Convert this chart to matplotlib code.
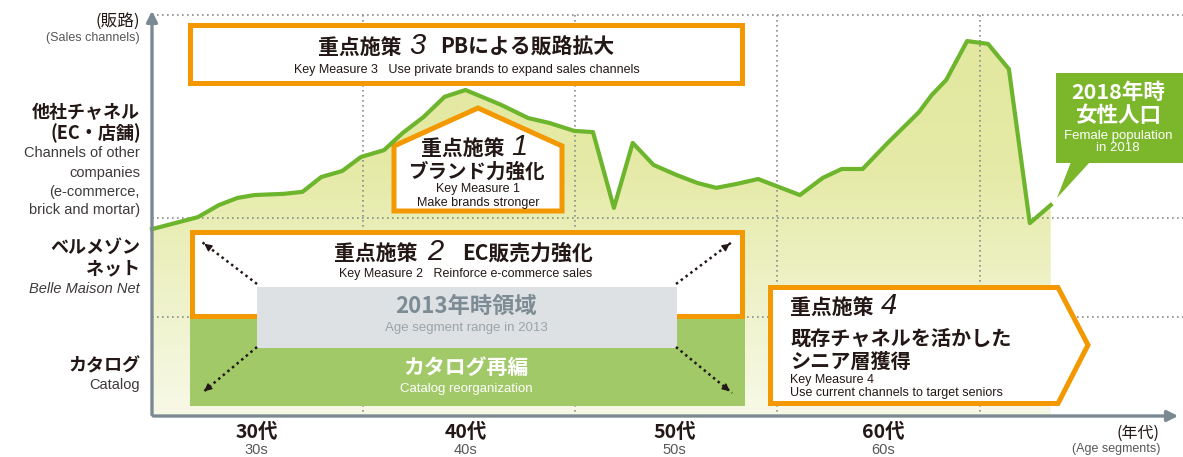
import matplotlib.pyplot as plt
import matplotlib.transforms as mtransforms
from matplotlib.patches import Rectangle, Polygon, FancyArrowPatch
from matplotlib.colors import LinearSegmentedColormap
import numpy as np

# 2018年時 女性人口（年齢別・指数）
ages = [30.0, 32.2, 33.2, 34.1, 34.9, 36.3, 37.2, 38.1, 39.1, 40.0, 41.1, 42.0,
        43.0, 44.0, 45.0, 46.7, 48.0, 49.0, 50.2, 51.1, 52.1, 53.0, 54.0, 55.1,
        56.1, 57.0, 58.0, 59.0, 60.0, 61.0, 62.1, 63.0, 64.0, 65.2, 66.7, 67.3,
        68.0, 69.0, 70.0, 71.0, 72.0, 73.0]
population = [46.6, 49.6, 52.6, 54.4, 55.1, 55.4, 55.9, 59.6, 61.1, 64.6, 66.3, 70.6,
              74.6, 79.6, 81.3, 77.6, 74.3, 73.1, 71.1, 70.8, 51.9, 68.1, 62.6, 60.1,
              58.1, 56.9, 57.9, 59.1, 57.1, 55.1, 59.4, 61.6, 61.6, 68.1, 75.8, 80.0,
              83.8, 93.5, 92.8, 86.5, 48.1, 52.6]

decade_centers = [35, 45, 55, 65]
decade_labels = ['30代', '40代', '50代', '60代']
decade_labels_en = ['30s', '40s', '50s', '60s']

JP = ['Noto Sans CJK JP', 'DejaVu Sans']
EN = 'Liberation Sans'
DARK = '#231815'
ORANGE = '#f39800'
AXIS = '#7b8a92'

W, H = 1183, 457
fig = plt.figure(figsize=(W / 100, H / 100), dpi=100)
ax = fig.add_axes([0, 0, 1, 1])
ax.axis('off')

# 画素座標（左上原点）用の変換
T = mtransforms.Affine2D().scale(1 / W, -1 / H).translate(0, 1) + fig.transFigure
TX = mtransforms.blended_transform_factory(ax.transData, T)

# 塗り（グラデーション）
poly = ax.fill_between(ages, population, 0, color='none', lw=0, zorder=1)
cmap = LinearSegmentedColormap.from_list('fill', ['#f7f9e7', '#eef2c8', '#e5eaa6', '#e2e89f'])
grad = np.linspace(0, 1, 256).reshape(-1, 1)
im = ax.imshow(grad, extent=(ages[0], ages[-1], 0, max(population)), origin='lower',
               aspect='auto', cmap=cmap, zorder=1)
im.set_clip_path(poly.get_paths()[0], transform=ax.transData)

px_per_year = 20.9
ax.set_xlim(30 - 152 / px_per_year, 30 + (W - 152) / px_per_year)
ax.set_ylim(-(H - 416) / 4.01, 416 / 4.01)

# 点線グリッド
dot = dict(color='#8c8c8c', ls=(0, (1, 2)), lw=1.2, zorder=2, transform=T)
for x in [363, 575, 777, 980]:
    ax.plot([x, x], [15, 416], **dot)
for y in [15, 218, 317]:
    ax.plot([152, W], [y, y], **dot)

# 重点施策1（家形）
ax.add_patch(Polygon([(394, 211), (394, 146), (478, 108), (562, 146), (562, 211)],
                     closed=True, fc='white', ec=ORANGE, lw=3.6, transform=T, zorder=3,
                     joinstyle='miter'))

# 女性人口ライン
ax.plot(ages, population, color='#6cb52d', lw=3, zorder=4, solid_joinstyle='round')

# 重点施策3
ax.add_patch(Rectangle((190.5, 24.5), 552, 58, fc='white', ec=ORANGE, lw=3.6,
                       transform=T, zorder=5, joinstyle='miter'))
# カタログ再編 / 重点施策2 / 2013年時領域
ax.add_patch(Rectangle((190, 317), 555, 89, fc='#a2c968', ec='none', transform=T, zorder=5))
ax.add_patch(Rectangle((192.5, 231.5), 550, 84, fc='white', ec=ORANGE, lw=3.6,
                       transform=T, zorder=6, joinstyle='miter'))
ax.add_patch(Rectangle((257, 287), 420, 61, fc='#dde1e4', ec='none', transform=T, zorder=7))

# 重点施策4（矢印形）
ax.add_patch(Polygon([(770.5, 287.5), (1058, 287.5), (1088, 345), (1058, 403.5), (770.5, 403.5)],
                     closed=True, fc='white', ec=ORANGE, lw=3.6, transform=T, zorder=5,
                     joinstyle='miter'))

# 吹き出し
ax.add_patch(Rectangle((1056, 73), 130, 90, fc='#7cb72b', ec='none', transform=T, zorder=5))
ax.add_patch(Polygon([(1071, 162), (1090, 162), (1057, 198)], closed=True, fc='#7cb72b',
                     ec='none', transform=T, zorder=5))

# 点線矢印
for (x0, y0), (x1, y1) in [((257, 284), (202, 242)), ((676, 284), (732, 242)),
                           ((257, 347), (202, 393)), ((676, 347), (732, 393))]:
    ax.plot([x0, x1], [y0, y1], color=DARK, ls=(0, (1, 1.4)), lw=1.8, transform=T, zorder=8)
    dx, dy = x1 - x0, y1 - y0
    n = np.hypot(dx, dy)
    ax.add_patch(FancyArrowPatch((x1 - dx / n * 8, y1 - dy / n * 8), (x1, y1), transform=T,
                                 arrowstyle='-|>', mutation_scale=11, color=DARK, lw=1, zorder=8))

# 軸
ax.annotate('', xy=(152, 8), xytext=(152, 417.5), xycoords=T, textcoords=T,
            arrowprops=dict(arrowstyle='-|>', color=AXIS, lw=2.4, mutation_scale=16), zorder=9)
ax.annotate('', xy=(1181, 416), xytext=(150.5, 416), xycoords=T, textcoords=T,
            arrowprops=dict(arrowstyle='-|>', color=AXIS, lw=2.4, mutation_scale=16), zorder=9)


def txt(x, y, s, size, fam=JP, color=DARK, ha='center', **kw):
    ax.text(x, y, s, transform=T, fontsize=size, family=fam, color=color, ha=ha,
            va='center', zorder=10, **kw)


# 左の販路ラベル
txt(140, 21, '(販路)', 12, ha='right')
txt(140, 38, '(Sales channels)', 9, fam=EN, color='#595757', ha='right')
txt(140, 113, '他社チャネル', 13, ha='right', weight='bold')
txt(141, 133, '(EC・店舗)', 13, ha='right', weight='bold')
for y, s in [(153, 'Channels of other'), (173, 'companies'), (192, '(e-commerce,'),
             (210, 'brick and mortar)')]:
    txt(140, y, s, 10.5, fam=EN, color='#3e3a39', ha='right')
txt(140, 247, 'ベルメゾン', 13, ha='right', weight='bold')
txt(140, 269, 'ネット', 13, ha='right', weight='bold')
txt(140, 289, 'Belle Maison Net', 10.5, fam=EN, color='#3e3a39', ha='right', style='italic')
txt(140, 366, 'カタログ', 13, ha='right', weight='bold')
txt(140, 385, 'Catalog', 10.5, fam=EN, color='#3e3a39', ha='right')

# 年代ラベル
for a, jp, en in zip(decade_centers, decade_labels, decade_labels_en):
    ax.text(a, 432, jp, transform=TX, fontsize=14, family=JP, weight='bold', color=DARK,
            ha='center', va='center', zorder=10)
    ax.text(a, 450, en, transform=TX, fontsize=10.5, family=EN, color='#595757',
            ha='center', va='center', zorder=10)
txt(1160, 433, '(年代)', 11.5, ha='right')
txt(1160, 449, '(Age segments)', 9, fam=EN, color='#595757', ha='right')

# 重点施策3
txt(402, 47, '重点施策', 15, ha='right', weight='bold')
txt(417, 46, '3', 21, fam=EN, style='italic')
txt(440, 47, 'PBによる販路拡大', 15, ha='left', weight='bold')
txt(467, 70, 'Key Measure 3   Use private brands to expand sales channels', 9, fam=EN)

# 重点施策1
txt(505, 148, '重点施策', 15, ha='right', weight='bold')
txt(519, 147, '1', 21, fam=EN, style='italic')
txt(477, 172, 'ブランド力強化', 14, weight='bold')
txt(478, 189, 'Key Measure 1', 9, fam=EN)
txt(478, 203, 'Make brands stronger', 9, fam=EN)

# 重点施策2
txt(418, 253, '重点施策', 15, ha='right', weight='bold')
txt(435, 252, '2', 21, fam=EN, style='italic')
txt(462, 253, 'EC販売力強化', 15, ha='left', weight='bold')
txt(466, 274, 'Key Measure 2   Reinforce e-commerce sales', 9, fam=EN)
txt(466, 306, '2013年時領域', 16, color='#7d8b94', weight='bold')
txt(466, 328, 'Age segment range in 2013', 9.5, fam=EN, color='#9aa4aa')
txt(466, 367, 'カタログ再編', 15, color='white', weight='bold')
txt(466, 389, 'Catalog reorganization', 9.5, fam=EN, color='white')

# 重点施策4
txt(790, 307, '重点施策', 15, ha='left', weight='bold')
txt(889, 306, '4', 21, fam=EN, style='italic')
txt(790, 338, '既存チャネルを活かした', 14.5, ha='left', weight='bold')
txt(790, 361, 'シニア層獲得', 14.5, ha='left', weight='bold')
txt(790, 380, 'Key Measure 4', 9, fam=EN, ha='left')
txt(790, 393, 'Use current channels to target seniors', 9, fam=EN, ha='left')

# 吹き出し
txt(1118, 92, '2018年時', 15.5, color='white', weight='bold')
txt(1118, 116, '女性人口', 15.5, color='white', weight='bold')
txt(1118, 136, 'Female population', 9.5, fam=EN, color='white')
txt(1118, 148, 'in 2018', 9.5, fam=EN, color='white')

fig.savefig('out.png', dpi=100)
